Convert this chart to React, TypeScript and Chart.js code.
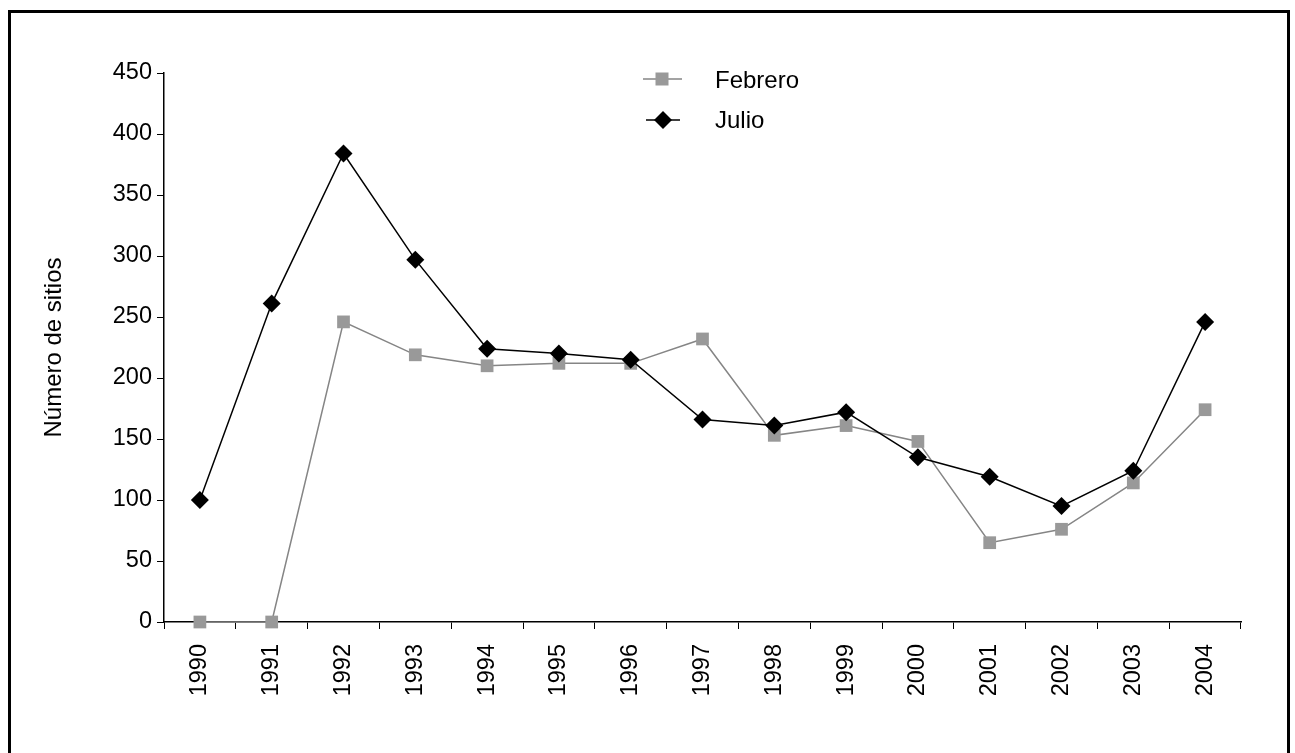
import React, { useEffect, useRef } from "react";
import { Chart, registerables } from "chart.js";

Chart.register(...registerables);

const years = ["1990", "1991", "1992", "1993", "1994", "1995", "1996", "1997", "1998", "1999", "2000", "2001", "2002", "2003", "2004"];
const febrero = [0, 0, 246, 219, 210, 212, 212, 232, 153, 161, 148, 65, 76, 114, 174];
const julio = [100, 261, 384, 297, 224, 220, 215, 166, 161, 172, 135, 119, 95, 124, 246];
const yMin = 0;
const yMax = 450;
const yStep = 50;
const yTitle = "Número de sitios";
const legendLabels = ["Febrero", "Julio"];

const FONT = "'Liberation Sans', Arial, sans-serif";
const FS = 24;
const TICK_FS = 23.5;
const FEB_LINE = "#858585";
const FEB_FILL = "#999999";

const legendPlugin = {
  id: "customLegend",
  afterDraw(chart: any) {
    const ctx = chart.ctx as CanvasRenderingContext2D;
    ctx.save();
    ctx.font = `${FS}px ${FONT}`;
    ctx.fillStyle = "#000";
    ctx.textBaseline = "alphabetic";
    ctx.textAlign = "left";
    // Febrero
    const y1 = 79;
    ctx.strokeStyle = FEB_LINE;
    ctx.lineWidth = 1.5;
    ctx.beginPath();
    ctx.moveTo(643, y1);
    ctx.lineTo(682, y1);
    ctx.stroke();
    ctx.fillStyle = FEB_FILL;
    ctx.fillRect(662 - 6.5, y1 - 6.5, 13, 13);
    ctx.fillStyle = "#000";
    ctx.fillText(legendLabels[0], 715, 88);
    // Julio
    const y2 = 120;
    ctx.strokeStyle = "#000";
    ctx.beginPath();
    ctx.moveTo(646, y2);
    ctx.lineTo(680, y2);
    ctx.stroke();
    ctx.beginPath();
    ctx.moveTo(663, y2 - 9);
    ctx.lineTo(672, y2);
    ctx.lineTo(663, y2 + 9);
    ctx.lineTo(654, y2);
    ctx.closePath();
    ctx.fill();
    ctx.fillText(legendLabels[1], 715, 128);
    ctx.restore();
  },
};

export default function App() {
  const ref = useRef<HTMLCanvasElement | null>(null);
  useEffect(() => {
    if (!ref.current) return;
    const chart = new Chart(ref.current, {
      type: "line",
      data: {
        labels: years,
        datasets: [
          {
            label: legendLabels[1],
            data: julio,
            borderColor: "#000",
            backgroundColor: "#000",
            borderWidth: 1.5,
            pointStyle: "rectRot",
            pointRadius: 9,
            pointBorderWidth: 0,
            pointBackgroundColor: "#000",
            tension: 0,
            clip: false,
          },
          {
            label: legendLabels[0],
            data: febrero,
            borderColor: FEB_LINE,
            backgroundColor: FEB_FILL,
            borderWidth: 1.5,
            pointStyle: "rect",
            pointRadius: 9,
            pointBorderWidth: 0,
            pointBackgroundColor: FEB_FILL,
            tension: 0,
            clip: false,
          },
        ],
      },
      options: {
        responsive: false,
        animation: false,
        events: [],
        layout: { padding: { top: 73, right: 54, left: 0, bottom: 0 } },
        plugins: { legend: { display: false }, tooltip: { enabled: false } },
        scales: {
          x: {
            type: "category",
            offset: true,
            afterFit: (s: any) => {
              s.height = 131;
            },
            grid: {
              offset: true,
              drawOnChartArea: false,
              tickLength: 7,
              color: "#000",
              lineWidth: 1,
            },
            border: { display: true, color: "#000", width: 1.5 },
            ticks: {
              autoSkip: false,
              minRotation: 90,
              maxRotation: 90,
              padding: 15,
              color: "#000",
              font: { family: FONT, size: TICK_FS },
            },
          },
          y: {
            min: yMin,
            max: yMax,
            afterFit: (s: any) => {
              s.width = 164;
            },
            grid: {
              drawOnChartArea: false,
              tickLength: 7,
              color: "#000",
              lineWidth: 1,
            },
            border: { display: true, color: "#000", width: 1.5 },
            ticks: {
              stepSize: yStep,
              padding: 5,
              color: "#000",
              font: { family: FONT, size: TICK_FS },
            },
            title: {
              display: true,
              text: yTitle,
              color: "#000",
              padding: { top: 40, bottom: 0 },
              font: { family: FONT, size: FS },
            },
          },
        },
      },
      plugins: [legendPlugin],
    });
    return () => chart.destroy();
  }, []);

  return (
    <div style={{ position: "fixed", left: 0, top: 0, width: 1295, height: 753, background: "#fff" }}>
      <canvas ref={ref} width={1295} height={753} style={{ position: "absolute", left: 0, top: 0 }} />
      <div
        style={{
          position: "absolute",
          left: 8,
          top: 10,
          width: 1290 - 8,
          height: 800,
          borderTop: "3px solid #000",
          borderLeft: "3px solid #000",
          borderRight: "3px solid #000",
          boxSizing: "border-box",
          pointerEvents: "none",
        }}
      />
    </div>
  );
}
